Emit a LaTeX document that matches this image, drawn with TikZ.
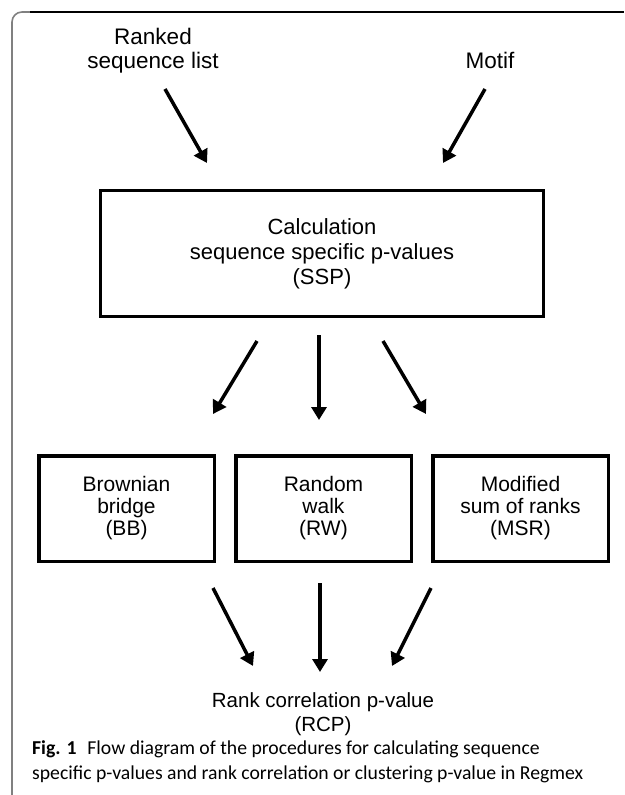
\documentclass[tikz,border=0pt]{standalone}
\usepackage{fontspec}
\setmainfont{Liberation Sans}
\newfontfamily\capfont{Carlito}
\usepackage{tikz}
\usetikzlibrary{arrows.meta,positioning,calc}
\tikzset{
    procbox/.style={
        rectangle, draw=black, line width=3.5pt, align=center,
        inner sep=0pt
    },
    mainbox/.style={
        procbox, minimum width=443pt, minimum height=126pt,
        font=\fontsize{22}{25}\selectfont
    },
    methodbox/.style={
        procbox, minimum width=175.5pt, minimum height=105.5pt,
        font=\fontsize{21}{22}\selectfont
    },
    inputlbl/.style={align=center, inner sep=0pt,
        font=\fontsize{22.5}{24}\selectfont},
    flow/.style={-{Triangle[length=13pt, width=15pt]}, line width=3.5pt},
    captxt/.style={align=left, inner sep=0pt,
        font=\capfont\fontsize{19.7}{25.5}\selectfont}
}
\begin{document}
\begin{tikzpicture}[x=1pt, y=-1pt, node distance=18pt]
        \useasboundingbox (0,0) rectangle (624,795);
        % figure frame (top and left only)
        \draw[gray, line width=1.6pt, rounded corners=10pt] (12,795) -- (12,12) -- (40,12);
        \draw[black, line width=1.4pt] (30,12) -- (624,12);
        % inputs
        \node[inputlbl] (rsl) at (153,51) {Ranked\\sequence list};
        \node[inputlbl] (motif) at (490,60) {Motif};
        % SSP step
        \node[mainbox] (ssp) at (322,253.5) {Calculation\\sequence specific p-values\\(SSP)};
        % three statistics
        \node[methodbox] (rw) at (323.5,508.5) {Random\\walk\\(RW)};
        \node[methodbox, left=of rw] (bb) {Brownian\\bridge\\(BB)};
        \node[methodbox, right=of rw] (msr) {Modified\\sum of ranks\\(MSR)};
        % result
        \node[inputlbl, font=\fontsize{20.5}{24}\selectfont] (rcp) at (323,714)
            {Rank correlation p-value\\(RCP)};
        % arrow ends
        \coordinate (a1s) at (165,89);  \coordinate (a1e) at (207,163);
        \coordinate (a2s) at (485,89);  \coordinate (a2e) at (443,163);
        \coordinate (b1s) at (257,341); \coordinate (b1e) at (213,414);
        \coordinate (b2s) at (319,335); \coordinate (b2e) at (319,420);
        \coordinate (b3s) at (383,341); \coordinate (b3e) at (426,414);
        \coordinate (c1s) at (213,588); \coordinate (c1e) at (253,666);
        \coordinate (c2s) at (320,583); \coordinate (c2e) at (320,672);
        \coordinate (c3s) at (431,588); \coordinate (c3e) at (392,666);
        \draw[flow] (a1s) -- (a1e);
        \draw[flow] (a2s) -- (a2e);
        \draw[flow] (b1s) -- (b1e);
        \draw[flow] (b2s) -- (b2e);
        \draw[flow] (b3s) -- (b3e);
        \draw[flow] (c1s) -- (c1e);
        \draw[flow] (c2s) -- (c2e);
        \draw[flow] (c3s) -- (c3e);
        % caption
        \node[captxt, anchor=west] (cap) at (32,762)
            {\textbf{Fig. 1}\hspace{0.55em}Flow diagram of the procedures for calculating sequence\\specific p-values and rank correlation or clustering p-value in Regmex};
    \end{tikzpicture}
\end{document}
